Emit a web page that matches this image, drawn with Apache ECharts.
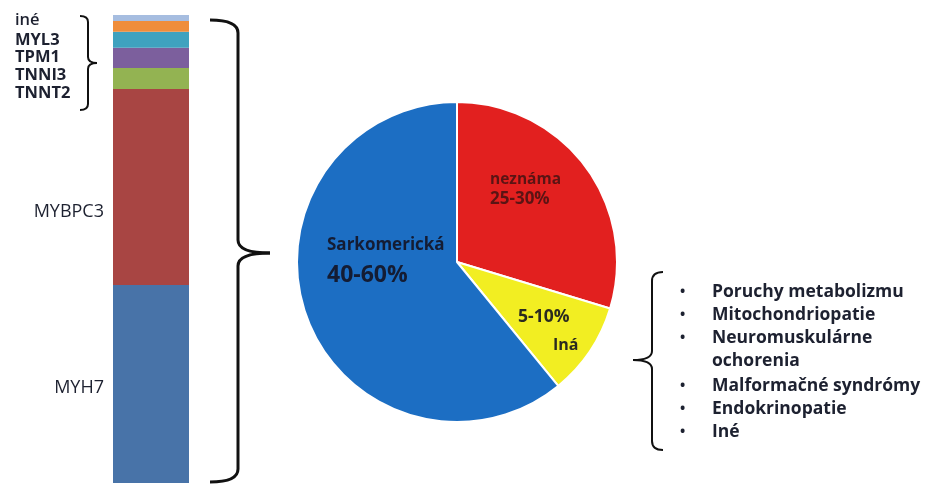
<!DOCTYPE html>
<html>
<head>
<meta charset="utf-8">
<script src="https://cdn.jsdelivr.net/npm/echarts@6/dist/echarts.min.js"></script>
<style>
html,body{margin:0;padding:0;background:#fff;}
#main{width:925px;height:486px;}
</style>
</head>
<body>
<div id="main"></div>
<script>
// gény v stĺpci (odspodu nahor) a ich podiel v %
var genes = ['MYH7', 'MYBPC3', 'TNNT2', 'TNNI3', 'TPM1', 'MYL3', 'iné'];
var geneShare = [42.3, 41.9, 4.5, 4.3, 3.4, 2.3, 1.3];
var geneColors = ['#4873a8', '#a84543', '#93b352', '#7c5f9d', '#3fa2bf', '#ef8d3b', '#a6bde0'];

// koláč: príčiny (v poradí v smere hodinových ručičiek od 12 h)
var causes = ['neznáma', 'Iná', 'Sarkomerická'];
var causeShare = [29.7, 9.4, 60.9];
var causeRange = ['25-30%', '5-10%', '40-60%'];
var causeColors = ['#e2201f', '#f2ee22', '#1c6ec3'];

// zoznam "iné" príčin
var otherCauses = ['Poruchy metabolizmu', 'Mitochondriopatie', 'Neuromuskulárne', 'ochorenia',
  'Malformačné syndrómy', 'Endokrinopatie', 'Iné'];

var total = geneShare.reduce(function (a, b) { return a + b; }, 0);
var txt = '#1d2130';
var ff = '"Open Sans"';

var barSeries = genes.map(function (g, i) {
  return {
    name: g,
    type: 'bar',
    stack: 'geny',
    barWidth: 76,
    silent: true,
    itemStyle: { color: geneColors[i] },
    data: [geneShare[i]]
  };
});

var graphics = [];
function label(x, y, text, font, fill, align) {
  graphics.push({type: 'text', x: x, y: y, z: 100, silent: true,
    style: {text: text, font: font + ' ' + ff, fill: fill || txt, textAlign: align || 'left', textVerticalAlign: 'middle'}});
}
// zátvorka: koncové body x0, zvislá čiara x1, hrot xp vo výške ym
function brace(x0, x1, xp, y0, ym, y1, r, lw) {
  var st = {stroke: '#111', fill: null, lineWidth: lw};
  function q(ax, ay, cx, cy, bx, by) {
    graphics.push({type: 'bezierCurve', z: 100, silent: true, style: st,
      shape: {x1: ax, y1: ay, x2: bx, y2: by, cpx1: cx, cpy1: cy}});
  }
  function l(ax, ay, bx, by) {
    graphics.push({type: 'line', z: 100, silent: true, style: st, shape: {x1: ax, y1: ay, x2: bx, y2: by}});
  }
  q(x0, y0, x1, y0, x1, y0 + r);
  l(x1, y0 + r, x1, ym - r);
  q(x1, ym - r, x1, ym, xp, ym);
  q(xp, ym, x1, ym, x1, ym + r);
  l(x1, ym + r, x1, y1 - r);
  q(x1, y1 - r, x1, y1, x0, y1);
}

// popisky génov
var smallY = {'TNNT2': 93, 'TNNI3': 75, 'TPM1': 57, 'MYL3': 40, 'iné': 20};
genes.forEach(function (g) {
  if (smallY[g] !== undefined) {
    label(15, smallY[g], g, (g === 'iné' ? '600' : 'bold') + ' 16.5px');
  }
});
label(104, 212, genes[1], 'normal 18px', txt, 'right');
label(104, 388, genes[0], 'normal 18px', txt, 'right');

// zátvorky
brace(80, 88, 97, 16, 63, 110, 6, 2);
brace(210, 238, 270, 20, 253, 482, 13, 3);
brace(663, 652, 633, 272, 360, 450, 9, 2);

// popisky koláča
label(490, 180, causes[0], 'bold 15.5px', '#5a1414');
label(490, 199, causeRange[0], 'bold 17px', '#5a1414');
label(518, 317, causeRange[1], 'bold 17.5px', '#2a2a20');
label(553, 345, causes[1], 'bold 16px', '#2a2a20');
label(327, 245, causes[2], 'bold 17px', '#141c33');
label(327, 275, causeRange[2], 'bold 23px', '#141c33');

// zoznam
var listY = [292, 315, 338, 361, 386, 409, 432];
otherCauses.forEach(function (c, i) {
  if (c !== 'ochorenia') label(680, listY[i], '•', 'bold 14px');
  label(712, listY[i], c, 'bold 17.5px');
});

var myChart = echarts.init(document.getElementById('main'));
var option = {
  backgroundColor: '#fff',
  animation: false,
  grid: {left: 113, width: 76, top: 15, bottom: 3},
  xAxis: {type: 'category', data: [''], show: false},
  yAxis: {type: 'value', min: 0, max: total, show: false},
  series: barSeries.concat([{
    type: 'pie',
    center: [457, 262],
    radius: 160,
    startAngle: 90,
    silent: true,
    label: {show: false},
    labelLine: {show: false},
    itemStyle: {borderColor: '#fff', borderWidth: 2},
    data: causes.map(function (c, i) {
      return {name: c, value: causeShare[i], itemStyle: {color: causeColors[i]}};
    })
  }]),
  graphic: graphics
};
myChart.setOption(option);
</script>
</body>
</html>
